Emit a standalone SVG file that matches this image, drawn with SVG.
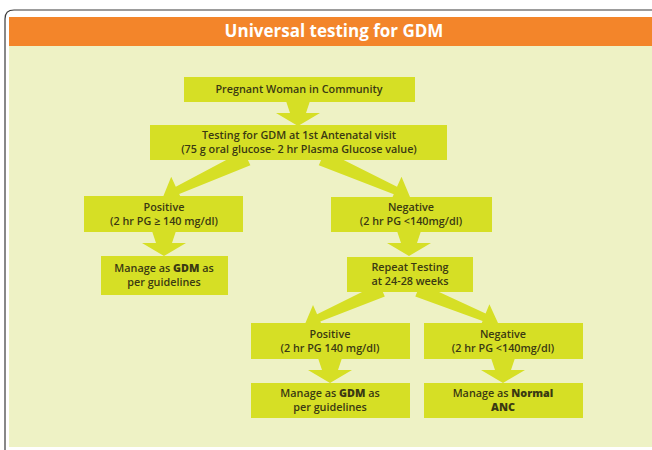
<svg xmlns="http://www.w3.org/2000/svg" xmlns:xlink="http://www.w3.org/1999/xlink" width="652" height="450" viewBox="0 0 652 450">
<defs>
<style>
.box{fill:#d6df25;}
.arr{fill:#d6df25;}
.t{font-family:"Open Sans","Liberation Sans",sans-serif;font-size:10.8px;font-weight:600;fill:#3a3912;text-anchor:middle;}
.b{font-weight:800;}
.title{font-family:"Open Sans","Liberation Sans",sans-serif;font-size:17px;font-weight:bold;fill:#ffffff;text-anchor:middle;}
</style>
<path id="varrow" d="M-12,0 H12 L8,12 H22 L0,25 L-22,12 H-8 Z"/>
</defs>
<rect x="0" y="0" width="652" height="450" fill="#ffffff"/>
<rect x="9" y="17" width="643" height="29" fill="#f3852a"/>
<rect x="9" y="46" width="643" height="401" fill="#eef2c5"/>
<path d="M652,10 H14 Q5,10 5,19 V450" fill="none" stroke="#3a3a3a" stroke-width="1.2"/>
<text class="title" x="334" y="37">Universal testing for GDM</text>

<g id="connectors" class="arr">
<use xlink:href="#varrow" x="298" y="101"/>
<use xlink:href="#varrow" x="164" y="231"/>
<use xlink:href="#varrow" x="409" y="231"/>
<use xlink:href="#varrow" x="330" y="358"/>
<use xlink:href="#varrow" x="503" y="358"/>
<polygon points="250.4,165.3 179.2,193.9 183.8,203.9 163,197 171.2,176.7 175.8,186.7 243.6,150.7"/>
<polygon points="318.8,165.3 393.8,194.2 389.3,204.2 410,197 401.5,176.8 397,186.8 325.2,150.7"/>
<polygon points="384.8,296.4 320.3,321.6 324.4,330.7 305,324 313,305.1 317.1,314.2 379.2,283.6"/>
<polygon points="415.3,296.5 482.6,321 478.8,330.3 498,323 489.4,304.3 485.6,313.6 420.7,283.5"/>
</g>

<g id="n-pregnant">
<rect class="box" x="184" y="77" width="231" height="25"/>
<text class="t" x="299" y="93">Pregnant Woman in Community</text>
</g>
<g id="n-testing">
<rect class="box" x="150" y="125" width="297" height="35"/>
<text class="t" x="299" y="139">Testing for GDM at 1st Antenatal visit</text>
<text class="t" x="299" y="153">(75 g oral glucose- 2 hr Plasma Glucose value)</text>
</g>
<g id="n-positive1">
<rect class="box" x="84" y="196" width="159" height="36"/>
<text class="t" x="164" y="211">Positive</text>
<text class="t" x="164" y="225">(2 hr PG ≥ 140 mg/dl)</text>
</g>
<g id="n-manage1">
<rect class="box" x="101" y="256" width="127" height="39"/>
<text class="t" x="164" y="272">Manage as <tspan class="b">GDM</tspan> as</text>
<text class="t" x="164" y="286">per guidelines</text>
</g>
<g id="n-negative1">
<rect class="box" x="331" y="197" width="161" height="35"/>
<text class="t" x="411" y="211">Negative</text>
<text class="t" x="411" y="225">(2 hr PG &lt;140mg/dl)</text>
</g>
<g id="n-repeat">
<rect class="box" x="347" y="257" width="126" height="35"/>
<text class="t" x="410" y="271">Repeat Testing</text>
<text class="t" x="410" y="285">at 24-28 weeks</text>
</g>
<g id="n-positive2">
<rect class="box" x="251" y="323" width="159" height="36"/>
<text class="t" x="330" y="338">Positive</text>
<text class="t" x="330" y="352">(2 hr PG 140 mg/dl)</text>
</g>
<g id="n-negative2">
<rect class="box" x="424" y="323" width="159" height="36"/>
<text class="t" x="503" y="338">Negative</text>
<text class="t" x="503" y="352">(2 hr PG &lt;140mg/dl)</text>
</g>
<g id="n-manage2">
<rect class="box" x="251" y="383" width="159" height="35"/>
<text class="t" x="330" y="397">Manage as <tspan class="b">GDM</tspan> as</text>
<text class="t" x="330" y="411">per guidelines</text>
</g>
<g id="n-normal">
<rect class="box" x="424" y="383" width="159" height="35"/>
<text class="t" x="503" y="397">Manage as <tspan class="b">Normal</tspan></text>
<text class="t b" x="503" y="411">ANC</text>
</g>
</svg>
